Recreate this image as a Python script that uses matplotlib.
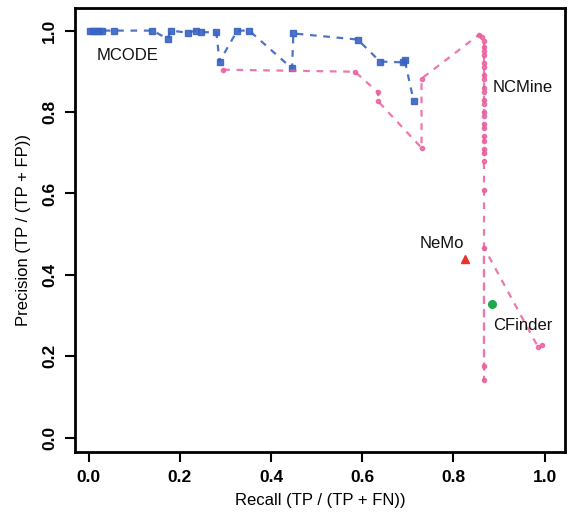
import numpy as np
import matplotlib.pyplot as plt

plt.rcParams['font.family'] = ['Liberation Sans', 'DejaVu Sans']

# MCODE (blue squares)
mcode_recall = [0.004, 0.01, 0.016, 0.022, 0.03, 0.055, 0.14, 0.173, 0.18, 0.217, 0.236,
                0.247, 0.28, 0.287, 0.326, 0.352, 0.446, 0.449, 0.59, 0.639, 0.689,
                0.693, 0.713]
mcode_prec = [1.0, 1.0, 1.0, 1.0, 1.0, 1.0, 1.0, 0.98, 1.0, 0.995, 1.0,
              0.996, 0.996, 0.924, 1.0, 1.0, 0.907, 0.993, 0.978, 0.924, 0.922,
              0.928, 0.826]

# NCMine (pink dots)
ncmine_recall = [0.295, 0.584, 0.635, 0.635, 0.73, 0.73, 0.856, 0.862, 0.867,
                 0.867, 0.867, 0.867, 0.867, 0.867, 0.867, 0.867, 0.867, 0.867,
                 0.867, 0.867, 0.867, 0.867, 0.867, 0.867, 0.867, 0.867, 0.867,
                 0.867, 0.867, 0.867, 0.867, 0.867, 0.867, 0.985, 0.995]
ncmine_prec = [0.904, 0.899, 0.848, 0.826, 0.712, 0.882, 0.99, 0.985, 0.975,
               0.96, 0.95, 0.94, 0.921, 0.91, 0.89, 0.88, 0.86, 0.85, 0.83,
               0.82, 0.80, 0.79, 0.77, 0.76, 0.74, 0.73, 0.71, 0.70, 0.68,
               0.609, 0.142, 0.177, 0.467, 0.224, 0.228]

nemo_recall, nemo_prec = [0.825], [0.44]
cfinder_recall, cfinder_prec = [0.884], [0.329]

blue = '#3a64c2'
pink = '#e9609f'

fig = plt.figure(figsize=(5.68, 5.13), dpi=100)
ax = fig.add_axes([0.132, 0.119, 0.863, 0.865])

ax.plot(mcode_recall, mcode_prec, linestyle=(0, (3, 3)), color=blue, lw=1.6,
        marker='s', markersize=4.8, alpha=0.9)
ax.plot(ncmine_recall, ncmine_prec, linestyle=(0, (3, 3)), color=pink, lw=1.6,
        marker='o', markersize=3, alpha=0.85)
ax.plot(nemo_recall, nemo_prec, linestyle='none', marker='^', color='#e8322a', markersize=5.5)
ax.plot(cfinder_recall, cfinder_prec, linestyle='none', marker='o', color='#1fa84f', markersize=5.5)

ax.text(0.018, 0.94, 'MCODE', fontsize=12, va='center', ha='left', color='#111111')
ax.text(0.886, 0.86, 'NCMine', fontsize=12, va='center', ha='left', color='#111111')
ax.text(0.775, 0.477, 'NeMo', fontsize=12, va='center', ha='center', color='#111111')
ax.text(0.886, 0.275, 'CFinder', fontsize=12, va='center', ha='left', color='#111111')

ax.set_xlim(-0.03, 1.045)
ax.set_ylim(-0.035, 1.055)
ax.set_xticks([0.0, 0.2, 0.4, 0.6, 0.8, 1.0])
ax.set_yticks([0.0, 0.2, 0.4, 0.6, 0.8, 1.0])
ax.set_xticklabels(['0.0', '0.2', '0.4', '0.6', '0.8', '1.0'], fontweight='bold', fontsize=12.5)
ax.set_yticklabels(['0.0', '0.2', '0.4', '0.6', '0.8', '1.0'], fontweight='bold', fontsize=12.5,
                   rotation=90, va='center')
ax.tick_params(direction='out', length=7, width=1.5, pad=6)
for s in ax.spines.values():
    s.set_linewidth(2)

ax.set_xlabel('Recall (TP / (TP + FN))', fontsize=12, labelpad=6)
ax.set_ylabel('Precision (TP / (TP + FP))', fontsize=12, labelpad=8)

plt.savefig('out.png', dpi=100)
